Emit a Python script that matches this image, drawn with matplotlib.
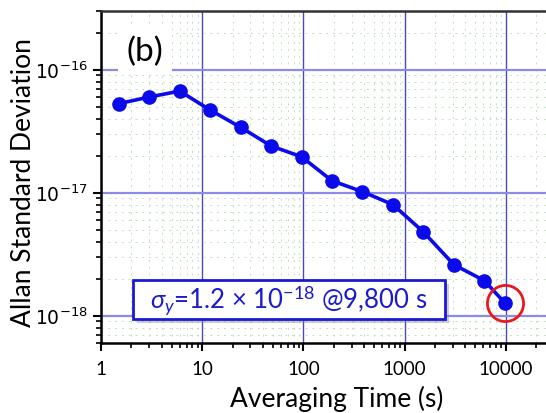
import matplotlib
matplotlib.use('Agg')
import matplotlib.pyplot as plt
import matplotlib.patheffects as pe
from matplotlib.patches import Rectangle
from matplotlib.ticker import LogLocator, NullFormatter, FixedLocator, FixedFormatter

# datos
tau = [1.5, 3, 6, 12, 24, 48, 96, 192, 384, 768, 1536, 3072, 6144, 9800]
adev = [5.3e-17, 6.0e-17, 6.7e-17, 4.7e-17, 3.4e-17, 2.4e-17, 1.96e-17,
        1.25e-17, 1.02e-17, 8.0e-18, 4.8e-18, 2.6e-18, 1.93e-18, 1.27e-18]
xticks = [1, 10, 100, 1000, 10000]
xlabels = ['1', '10', '100', '1000', '10000']

plt.rcParams['mathtext.fontset'] = 'custom'
plt.rcParams['mathtext.rm'] = 'Lato'
plt.rcParams['mathtext.it'] = 'Lato:italic'

fig = plt.figure(figsize=(5.46, 4.14), dpi=100)
ax = fig.add_axes([0.185, 0.169, 0.815, 0.802])

ax.set_xscale('log')
ax.set_yscale('log')
ax.set_xlim(1, 25000)
ax.set_ylim(6e-19, 3e-16)

# rejilla
ax.xaxis.set_minor_locator(LogLocator(base=10, subs=range(2, 10)))
ax.yaxis.set_minor_locator(LogLocator(base=10, subs=range(2, 10)))
ax.xaxis.set_minor_formatter(NullFormatter())
ax.yaxis.set_minor_formatter(NullFormatter())
ax.grid(which='minor', color='#bfe2bf', linestyle=(0, (2, 5)), lw=0.7)
ax.grid(which='major', axis='x', color='#4a4ab8', lw=1.0)
ax.grid(which='major', axis='y', color='#8c8ce6', lw=1.6)
ax.set_axisbelow(True)

ax.plot(tau, adev, color='#0a0aeb', lw=2.6, marker='o', ms=9.5, zorder=3)
ax.plot(tau[-1], adev[-1], marker='o', ms=26, mfc='none', mec='#e8191c', mew=2, zorder=4)

ax.xaxis.set_major_locator(FixedLocator(xticks))
ax.xaxis.set_major_formatter(FixedFormatter(xlabels))

for s in ['left', 'bottom', 'top']:
    ax.spines[s].set_linewidth(1.8)
ax.spines['top'].set_color('#333333')
ax.spines['right'].set_visible(False)
ax.tick_params(which='major', length=6, width=1.5, labelsize=13.5, direction='out')
ax.tick_params(which='minor', length=3.5, width=1.2, direction='out')
ax.tick_params(axis='x', pad=6)
for lab in ax.get_xticklabels():
    lab.set_fontfamily('Lato')

ax.set_xlabel('Averaging Time (s)', fontsize=19, family='Lato', va='top')
ax.xaxis.set_label_coords(0.53, -0.125)
ax.set_ylabel('Allan Standard Deviation', fontsize=19, family='Lato', va='center')
ax.yaxis.set_label_coords(-0.175, 0.485)

ax.text(0.099, 0.88, '(b)', transform=ax.transAxes, fontsize=24, family='Lato',
        ha='center', va='center',
        bbox=dict(boxstyle='square,pad=0.25', fc='white', ec='none'))

# recuadro de la anotacion con sombra
caja = Rectangle((0.072, 0.072), 0.701, 0.118, transform=ax.transAxes,
                 fc='white', ec='#1a1ad0', lw=2, zorder=5)
caja.set_path_effects([pe.SimplePatchShadow(offset=(3, -3), shadow_rgbFace='gray', alpha=0.4), pe.Normal()])
ax.add_patch(caja)
ax.text(0.422, 0.131, r'$\sigma_y$=1.2 × 10$^{-18}$ @9,800 s', transform=ax.transAxes,
        fontsize=18.5, family='Lato', color='#1a1ad0', ha='center', va='center', zorder=6)

fig.savefig('out.png', dpi=100)
